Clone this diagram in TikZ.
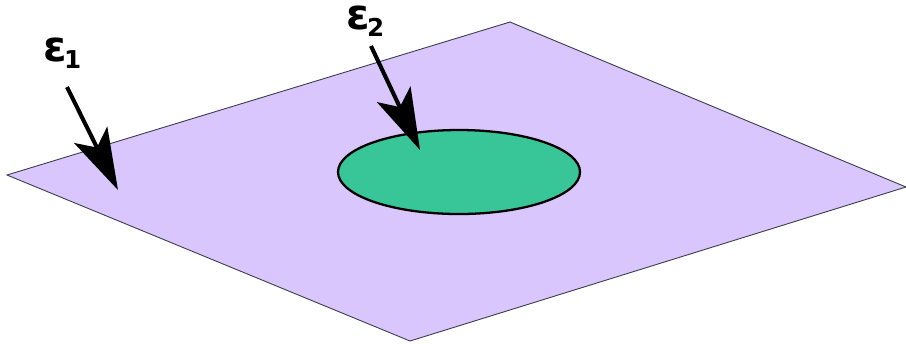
\documentclass[tikz,border=0pt]{standalone}
\usepackage{fontspec}
\usepackage{tikz}
\usetikzlibrary{arrows.meta,shapes.geometric}
\setmainfont{DejaVu Sans}
\definecolor{planeL}{HTML}{D9C6FD}
\definecolor{regionG}{HTML}{38C698}
\definecolor{edgeD}{HTML}{3A3A48}
\newcommand{\epsidx}[1]{ε\kern-1.5pt\raisebox{-4pt}{\fontsize{14}{16}\selectfont #1}}

\begin{document}
\begin{tikzpicture}[
  x=0.02cm, y=-0.02cm,
  lbl/.style={font=\fontsize{24}{28}\selectfont\bfseries, inner sep=0pt, anchor=base west, text height=13.5pt},
  ptr/.style={-{Stealth[length=35pt, width=21pt, inset=8pt]}, line width=2.3pt},
]
\useasboundingbox (0,0) rectangle (906,343);

% Plane
\draw[edgeD, fill=planeL, line width=0.5pt] (7,175) -- (510,22) -- (906,187) -- (410,341) -- cycle;

% Inner region
\node[draw=black, fill=regionG, line width=1.3pt, ellipse, minimum width=242*0.02cm, minimum height=84*0.02cm, inner sep=0pt] (reg) at (459,172) {};

% Labels
\node[lbl] (eps1) at (43,61) {\epsidx{1}};
\node[lbl] (eps2) at (346,29) {\epsidx{2}};

% Pointers
\coordinate (p1) at (67,87);
\coordinate (t1) at (118,190);
\coordinate (p2) at (371,46);
\coordinate (t2) at (420,150);
\draw[ptr] (p1) -- (t1);
\draw[ptr] (p2) -- (t2);
\end{tikzpicture}
\end{document}
